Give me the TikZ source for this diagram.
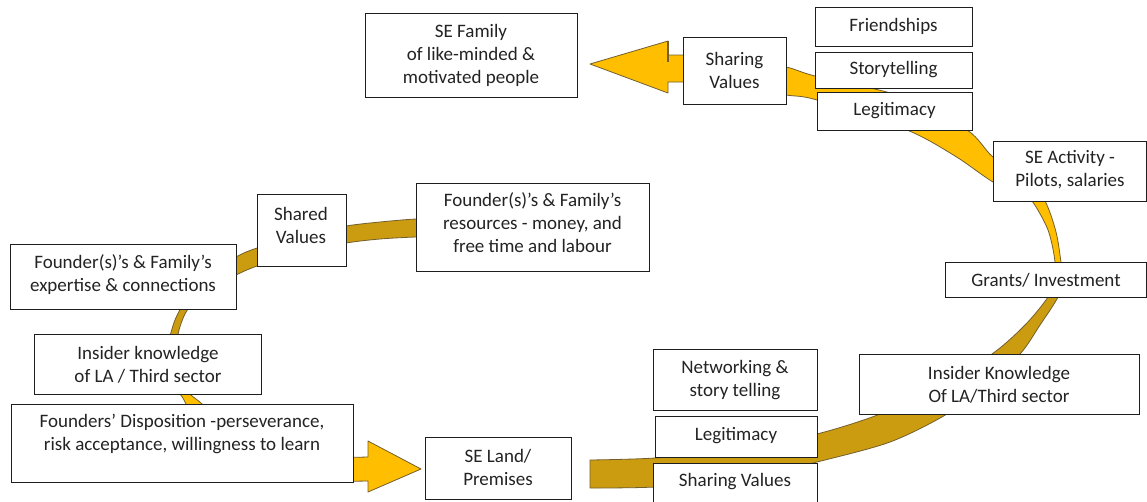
\documentclass[tikz,border=0pt]{standalone}
\usepackage{fontspec}
\setmainfont{Carlito}

\definecolor{bandDark}{RGB}{204,156,16}
\definecolor{bandBright}{RGB}{255,190,0}
\definecolor{bandEdge}{RGB}{115,95,45}
\definecolor{boxline}{RGB}{30,30,30}
\definecolor{ink}{RGB}{35,35,35}

\tikzset{
  box/.style={draw=boxline, line width=1pt, fill=white, inner sep=0pt},
  lbl/.style={align=center, text=ink, inner sep=0pt,
              font=\fontsize{19}{23}\selectfont},
  bandpart/.style={draw=bandEdge, line width=0.8pt, line join=round},
}

\begin{document}
\begin{tikzpicture}[x=1pt, y=-1pt]
\useasboundingbox (0,0) rectangle (1147,501);
\fill[white] (0,0) rectangle (1147,501);

% ---------- left spiral: resources -> ... -> SE Land ----------
% dark back face
\filldraw[bandpart, fill=bandDark]
  plot[smooth] coordinates {(445,219) (416,219) (380,222) (346,226) (300,235)
        (257,248) (236,257) (205,278) (186,300) (175,320) (168,345) (166,368)}
  -- plot[smooth] coordinates {(181,368) (178,345) (179,330) (188,309)
        (210,289) (236,275) (257,266) (300,252) (346,243) (380,239) (416,237) (445,237)}
  -- cycle;
% bright front face with arrowhead
\filldraw[bandpart, fill=bandBright]
  plot[smooth] coordinates {(166,360) (168,380) (180,394) (186,404)
        (205,445) (250,474) (300,481) (368,481)}
  -- (368,492) -- (421,469) -- (368,441) -- (368,457)
  -- plot[smooth] coordinates {(368,457) (300,457) (255,447) (220,425)
        (202,404) (190,394) (182,380) (180,360)}
  -- cycle;

% ---------- right spiral: SE Land -> ... -> SE Family ----------
% dark back face
\filldraw[bandpart, fill=bandDark]
  plot[smooth] coordinates {(590,460) (655,458) (740,450) (817,434) (880,414)
        (940,385) (992,354) (1025,325) (1048,297) (1055,278)}
  -- plot[smooth] coordinates {(1063,278) (1058,297) (1040,325) (1020,354)
        (985,385) (947,414) (890,442) (817,462) (740,480) (655,487) (590,488)}
  -- cycle;
% bright front face with arrowhead
\filldraw[bandpart, fill=bandBright]
  plot[smooth] coordinates {(1064,284) (1061,262) (1056,232) (1045,201)
        (1025,175) (993,157) (967,130) (900,96) (815,76) (786,67) (740,60) (683,55)}
  -- (668,55) -- (668,41) -- (590,64) -- (668,93) -- (668,82)
  -- plot[smooth] coordinates {(683,82) (740,88) (786,95) (817,100) (907,130)
        (955,156) (993,182) (1018,192) (1032,201) (1048,230) (1055,262) (1053,284)}
  -- cycle;
\draw[bandEdge, line width=1.1pt] (668,41) -- (668,62);

% ---------- boxes ----------
\node[box, minimum width=212pt, minimum height=84pt] (fam) at (471,55) {};
\node[lbl] (famT) at (471,55) {SE Family\\of like-minded \&\\motivated people};

\node[box, minimum width=103pt, minimum height=67pt] (shareT) at (734.5,70.5) {};
\node[lbl] (shareTT) at (734.5,70.5) {Sharing\\Values};

\node[box, minimum width=157pt, minimum height=39pt] (friend) at (893.5,26.5) {};
\node[lbl] (friendT) at (893.5,26.5) {Friendships};

\node[box, minimum width=157pt, minimum height=36pt] (story) at (893.5,70) {};
\node[lbl] (storyT) at (893.5,70) {Storytelling};

\node[box, minimum width=155pt, minimum height=38pt] (legitT) at (894.5,111) {};
\node[lbl] (legitTT) at (894.5,111) {Legitimacy};

\node[box, minimum width=153.5pt, minimum height=60pt] (activity) at (1069.75,171) {};
\node[lbl] (activityT) at (1070,170) {SE Activity -\\Pilots, salaries};

\node[box, minimum width=201.5pt, minimum height=35pt] (grants) at (1045.75,279.5) {};
\node[lbl] (grantsT) at (1046,280) {Grants/ Investment};

\node[box, minimum width=280pt, minimum height=60pt] (insiderR) at (999,384) {};
\node[lbl] (insiderRT) at (999,385) {Insider Knowledge\\Of LA/Third sector};

\node[box, minimum width=164pt, minimum height=61pt] (network) at (735,379.5) {};
\node[lbl] (networkT) at (735,380) {Networking \&\\story telling};

\node[box, minimum width=162pt, minimum height=41pt] (legitB) at (736,436.5) {};
\node[lbl] (legitBT) at (736,436) {Legitimacy};

\node[box, minimum width=164pt, minimum height=41pt] (shareB) at (735,483.5) {};
\node[lbl] (shareBT) at (735,482) {Sharing Values};

\node[box, minimum width=146pt, minimum height=62pt] (land) at (498,468) {};
\node[lbl] (landT) at (498,467.5) {SE Land/\\Premises};

\node[box, minimum width=342pt, minimum height=78pt] (dispo) at (182,443) {};
\node[lbl] (dispoT) at (182,434) {Founders’ Disposition -perseverance,\\risk acceptance, willingness to learn};

\node[box, minimum width=227pt, minimum height=60pt] (insiderL) at (147.5,364) {};
\node[lbl] (insiderLT) at (148,365) {Insider knowledge\\of LA / Third sector};

\node[box, minimum width=226pt, minimum height=65pt] (expert) at (123,276.5) {};
\node[lbl] (expertT) at (123,275) {Founder(s)’s \& Family’s\\expertise \& connections};

\node[box, minimum width=89pt, minimum height=72pt] (shareL) at (301.5,230) {};
\node[lbl] (shareLT) at (301,225) {Shared\\Values};

\node[box, minimum width=233pt, minimum height=88pt] (resources) at (532.5,227) {};
\node[lbl] (resourcesT) at (532.5,223) {Founder(s)’s \& Family’s\\resources - money, and\\free time and labour};
\end{tikzpicture}
\end{document}
